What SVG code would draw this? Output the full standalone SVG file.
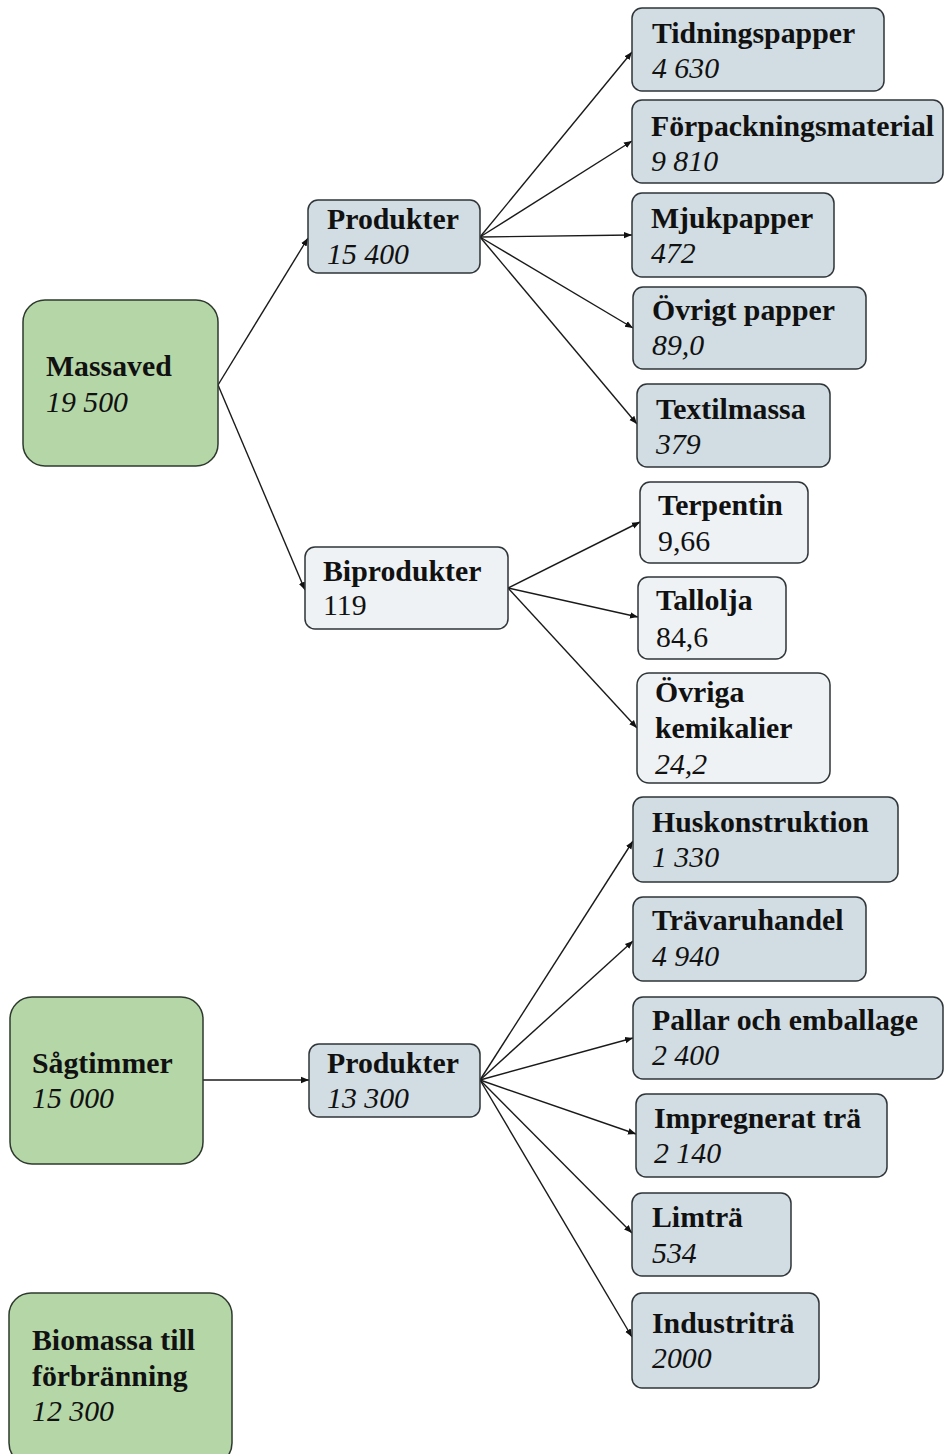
<svg xmlns="http://www.w3.org/2000/svg" width="944" height="1454" viewBox="0 0 944 1454">
  <defs>
    <marker id="arrow" viewBox="0 0 10 10" refX="10" refY="5" markerWidth="8" markerHeight="8" markerUnits="userSpaceOnUse" orient="auto">
      <path d="M0,1 L10,5 L0,9 z" fill="#111"/>
    </marker>
  </defs>
  <style>
    .src { fill: #b5d6a7; stroke: #2e3a2e; stroke-width: 1.5; }
    .prod { fill: #d1dde2; stroke: #2f3538; stroke-width: 1.5; }
    .bi { fill: #eef2f4; stroke: #2f3538; stroke-width: 1.5; }
    text { font-family: "Liberation Serif", "Times New Roman", serif; font-size: 29.8px; fill: #111; }
    .t { font-weight: bold; }
    .v { font-style: italic; }
    .edge { stroke: #1a1a1a; stroke-width: 1.4; fill: none; marker-end: url(#arrow); }
  </style>

  <!-- connectors -->
  <g id="connectors">
    <line class="edge" x1="218" y1="385" x2="308" y2="238"/>
    <line class="edge" x1="218" y1="385" x2="305" y2="590"/>
    <line class="edge" x1="480" y1="237" x2="632" y2="52"/>
    <line class="edge" x1="480" y1="237" x2="632" y2="141"/>
    <line class="edge" x1="480" y1="237" x2="632" y2="235"/>
    <line class="edge" x1="480" y1="237" x2="633" y2="328"/>
    <line class="edge" x1="480" y1="237" x2="637" y2="424"/>
    <line class="edge" x1="508" y1="588" x2="640" y2="522"/>
    <line class="edge" x1="508" y1="588" x2="638" y2="617"/>
    <line class="edge" x1="508" y1="588" x2="637" y2="728"/>
    <line class="edge" x1="203" y1="1080" x2="309" y2="1080"/>
    <line class="edge" x1="480" y1="1080" x2="633" y2="841"/>
    <line class="edge" x1="480" y1="1080" x2="633" y2="941"/>
    <line class="edge" x1="480" y1="1080" x2="633" y2="1038"/>
    <line class="edge" x1="480" y1="1080" x2="636" y2="1134"/>
    <line class="edge" x1="480" y1="1080" x2="632" y2="1233"/>
    <line class="edge" x1="480" y1="1080" x2="632" y2="1337"/>
  </g>

  <!-- sources -->
  <g id="massaved">
    <rect class="src" x="23" y="300" width="195" height="166" rx="22"/>
    <text class="t" x="46" y="376">Massaved</text>
    <text class="v" x="46" y="412">19 500</text>
  </g>
  <g id="sagtimmer">
    <rect class="src" x="10" y="997" width="193" height="167" rx="22"/>
    <text class="t" x="32" y="1073">Sågtimmer</text>
    <text class="v" x="32" y="1108">15 000</text>
  </g>
  <g id="biomassa">
    <rect class="src" x="9" y="1293" width="223" height="172" rx="22"/>
    <text class="t" x="32" y="1350">Biomassa till</text>
    <text class="t" x="32" y="1386">förbränning</text>
    <text class="v" x="32" y="1421">12 300</text>
  </g>

  <!-- pulpwood products -->
  <g id="produkter-massa">
    <rect class="prod" x="308" y="200" width="172" height="73" rx="10"/>
    <text class="t" x="327" y="229">Produkter</text>
    <text class="v" x="327" y="264">15 400</text>
  </g>
  <g id="tidningspapper">
    <rect class="prod" x="632" y="8" width="252" height="83" rx="10"/>
    <text class="t" x="652" y="43">Tidningspapper</text>
    <text class="v" x="652" y="78">4 630</text>
  </g>
  <g id="forpackningsmaterial">
    <rect class="prod" x="632" y="100" width="311" height="83" rx="10"/>
    <text class="t" x="651" y="136">Förpackningsmaterial</text>
    <text class="v" x="651" y="171">9 810</text>
  </g>
  <g id="mjukpapper">
    <rect class="prod" x="632" y="193" width="202" height="84" rx="10"/>
    <text class="t" x="651" y="228">Mjukpapper</text>
    <text class="v" x="651" y="263">472</text>
  </g>
  <g id="ovrigt-papper">
    <rect class="prod" x="633" y="287" width="233" height="82" rx="10"/>
    <text class="t" x="652" y="320">Övrigt papper</text>
    <text class="v" x="652" y="355">89,0</text>
  </g>
  <g id="textilmassa">
    <rect class="prod" x="637" y="384" width="193" height="83" rx="10"/>
    <text class="t" x="656" y="419">Textilmassa</text>
    <text class="v" x="656" y="454">379</text>
  </g>

  <!-- by-products -->
  <g id="biprodukter">
    <rect class="bi" x="305" y="547" width="203" height="82" rx="10"/>
    <text class="t" x="323" y="581">Biprodukter</text>
    <text x="323" y="615">119</text>
  </g>
  <g id="terpentin">
    <rect class="bi" x="640" y="482" width="168" height="81" rx="10"/>
    <text class="t" x="658" y="515">Terpentin</text>
    <text x="658" y="551">9,66</text>
  </g>
  <g id="tallolja">
    <rect class="bi" x="638" y="577" width="148" height="82" rx="10"/>
    <text class="t" x="656" y="610">Tallolja</text>
    <text x="656" y="647">84,6</text>
  </g>
  <g id="ovriga-kemikalier">
    <rect class="bi" x="637" y="673" width="193" height="110" rx="12"/>
    <text class="t" x="655" y="702">Övriga</text>
    <text class="t" x="655" y="738">kemikalier</text>
    <text class="v" x="655" y="774">24,2</text>
  </g>

  <!-- sawlog products -->
  <g id="produkter-sag">
    <rect class="prod" x="309" y="1044" width="171" height="73" rx="10"/>
    <text class="t" x="327" y="1073">Produkter</text>
    <text class="v" x="327" y="1108">13 300</text>
  </g>
  <g id="huskonstruktion">
    <rect class="prod" x="633" y="797" width="265" height="85" rx="10"/>
    <text class="t" x="652" y="832">Huskonstruktion</text>
    <text class="v" x="652" y="867">1 330</text>
  </g>
  <g id="travaruhandel">
    <rect class="prod" x="633" y="897" width="233" height="84" rx="10"/>
    <text class="t" x="652" y="930">Trävaruhandel</text>
    <text class="v" x="652" y="966">4 940</text>
  </g>
  <g id="pallar">
    <rect class="prod" x="633" y="997" width="310" height="82" rx="10"/>
    <text class="t" x="652" y="1030">Pallar och emballage</text>
    <text class="v" x="652" y="1065">2 400</text>
  </g>
  <g id="impregnerat">
    <rect class="prod" x="636" y="1094" width="251" height="83" rx="10"/>
    <text class="t" x="654" y="1128">Impregnerat trä</text>
    <text class="v" x="654" y="1163">2 140</text>
  </g>
  <g id="limtra">
    <rect class="prod" x="632" y="1193" width="159" height="83" rx="10"/>
    <text class="t" x="652" y="1227">Limträ</text>
    <text class="v" x="652" y="1263">534</text>
  </g>
  <g id="industritra">
    <rect class="prod" x="632" y="1293" width="187" height="95" rx="10"/>
    <text class="t" x="652" y="1333">Industriträ</text>
    <text class="v" x="652" y="1368">2000</text>
  </g>
</svg>
